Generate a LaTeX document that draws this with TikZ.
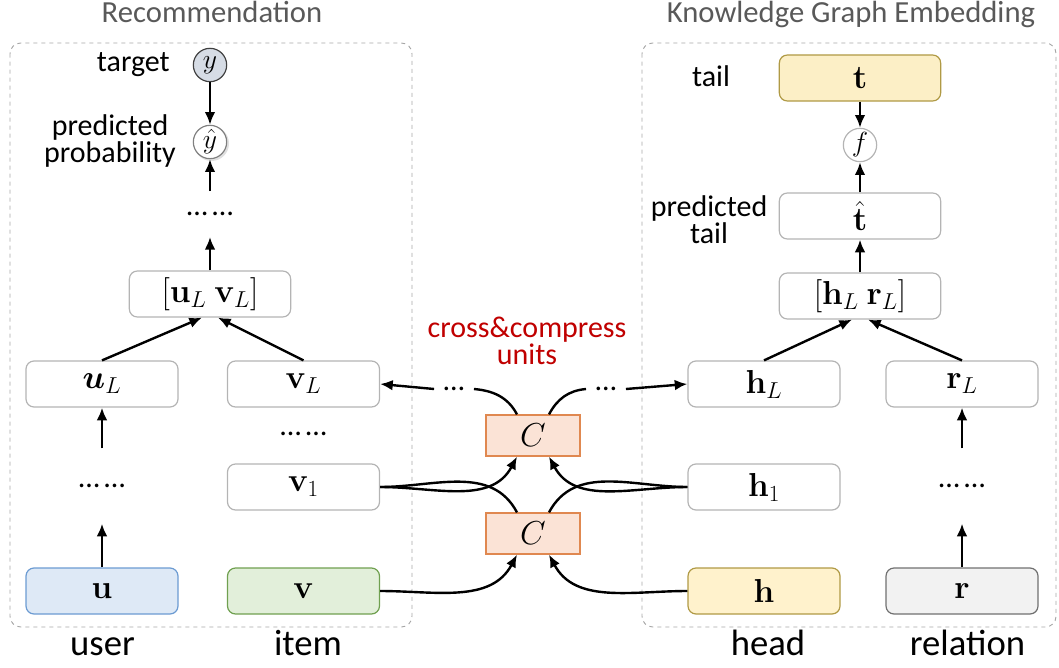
\documentclass[tikz,border=0pt]{standalone}
\usepackage[no-math]{fontspec}
\usepackage{bm}
\setmainfont{Carlito}
\usetikzlibrary{arrows.meta,calc}

\definecolor{boxline}{HTML}{B4B4B4}
\definecolor{frameline}{HTML}{A6A6A6}
\definecolor{titlegrey}{HTML}{595959}
\definecolor{unitred}{HTML}{C00000}
\definecolor{ufill}{HTML}{DEE9F6}
\definecolor{uline}{HTML}{6C9BD2}
\definecolor{vfill}{HTML}{E2EFDA}
\definecolor{vline}{HTML}{70A050}
\definecolor{hfill}{HTML}{FFF2CC}
\definecolor{hline}{HTML}{B09A45}
\definecolor{tfill}{HTML}{FCEFC6}
\definecolor{rfill}{HTML}{F2F2F2}
\definecolor{rline}{HTML}{707070}
\definecolor{cfill}{HTML}{FBE3D6}
\definecolor{cline}{HTML}{E08850}
\definecolor{yfill}{HTML}{D6DCE5}

\newcommand{\mathsz}{\fontsize{26}{28}\selectfont}
\newcommand{\lblsz}{\fontsize{22.5}{20}\selectfont}
\newcommand{\botsz}{\fontsize{27.5}{30}\selectfont}
\newcommand{\ttlsz}{\fontsize{23}{27}\selectfont}
\newcommand{\twodots}{\ldots\,\ldots}

\tikzset{
  lay/.style={draw=boxline, line width=0.9pt, rounded corners=6pt,
    minimum width=114pt, minimum height=34.5pt, inner sep=0pt, font=\mathsz},
  catbox/.style={lay, minimum width=121pt},
  unit/.style={draw=cline, fill=cfill, line width=0.9pt,
    minimum width=70.5pt, minimum height=30.75pt, inner sep=0pt, font=\mathsz},
  ball/.style={circle, draw=boxline, line width=0.9pt, fill=white,
    minimum size=25pt, inner sep=0pt, font=\fontsize{20}{22}\selectfont},
  frame/.style={draw=frameline, dashed, line width=0.7pt, rounded corners=8pt},
  lbl/.style={font=\lblsz, align=center, inner sep=0pt},
  botlbl/.style={font=\botsz, inner sep=0pt, anchor=base},
  ttl/.style={font=\ttlsz, text=titlegrey, inner sep=0pt, anchor=base},
  gap/.style={font=\lblsz, inner sep=0pt},
  arr/.style={-{Latex[length=9.5pt,width=8pt]}, line width=1.8pt},
  link/.style={line width=1.8pt},
}

\begin{document}
\begin{tikzpicture}[x=0.75pt, y=-0.75pt]
\useasboundingbox (0,0) rectangle (1059,667);

% panel frames and titles
\draw[frame] (10,43) rectangle (412,627);
\draw[frame] (642,43) rectangle (1056,627);
\node[ttl] (rectitle) at (212,23) {Recommendation};
\node[ttl] (kgetitle) at (851,23) {Knowledge Graph Embedding};

% recommendation side
\node[lay, fill=ufill, draw=uline] (u) at (102,591) {$\mathbf{u}$};
\node[lay, fill=vfill, draw=vline] (v) at (303.5,591) {$\mathbf{v}$};
\node[lay] (v1) at (303.5,487) {$\mathbf{v}_1$};
\node[lay] (vL) at (303.5,384) {$\mathbf{v}_L$};
\node[lay] (uL) at (102,384) {$\bm{u}_L$};
\node[gap, minimum height=56pt] (udots) at (102,486) {\twodots};
\node[gap] (vdots) at (303.5,434) {\twodots};
\node[catbox] (uv) at (210,294) {$[\mathbf{u}_L\ \mathbf{v}_L]$};
\node[gap, minimum height=34pt] (topdots) at (210,214) {\twodots};
\fill[black!12] (211.5,143.5) circle[radius=17.5];
\node[ball, draw=gray] (yhat) at (210,142) {$\hat{y}$};
\node[ball, fill=yfill, draw=black!75] (y) at (210,65) {$y$};
\node[lbl, anchor=base east] (targetlbl) at (170,72) {target};
\node[lbl] (predlbl) at (110,141) {predicted\\probability};

% knowledge graph side
\node[lay, fill=hfill, draw=hline] (h) at (764,591) {$\mathbf{h}$};
\node[lay, fill=rfill, draw=rline] (r) at (962,591) {$\mathbf{r}$};
\node[lay] (h1) at (764,487) {$\mathbf{h}_1$};
\node[lay] (hL) at (764,384) {$\mathbf{h}_L$};
\node[lay] (rL) at (962,384) {$\mathbf{r}_L$};
\node[gap, minimum height=56pt] (rdots) at (962,486) {\twodots};
\node[catbox] (hr) at (860,296) {$[\mathbf{h}_L\ \mathbf{r}_L]$};
\node[catbox] (that) at (860,216) {$\hat{\mathbf{t}}$};
\node[ball] (f) at (860,145) {$f$};
\node[catbox, fill=tfill, draw=hline] (t) at (860,78) {$\mathbf{t}$};
\node[lbl, anchor=base] (taillbl) at (711,87) {tail};
\node[lbl] (ptaillbl) at (709,220) {predicted\\tail};

% cross&compress units
\node[unit] (ctop) at (533,435.5) {$C$};
\node[unit] (cbot) at (533,533.5) {$C$};
\node[lbl, text=unitred] (unitlbl) at (527,341) {cross\&compress\\units};
\node[gap, inner xsep=7pt] (ldots) at (454,389) {\ldots};
\node[gap, inner xsep=7pt] (rdotsc) at (606,389) {\ldots};

% bottom labels
\node[botlbl] (userlbl) at (102.5,655) {user};
\node[botlbl] (itemlbl) at (308,655) {item};
\node[botlbl] (headlbl) at (768,655) {head};
\node[botlbl] (rellbl) at (967.5,655) {relation};

% vertical flows
\draw[arr] (u.north) -- (udots.south);
\draw[arr] (udots.north) -- (uL.south);
\draw[arr] (uL.north) -- ($(uv.south)+(-8,0)$);
\draw[arr] (vL.north) -- ($(uv.south)+(8,0)$);
\draw[arr] (uv.north) -- (topdots.south);
\draw[arr] (topdots.north) -- (yhat.south);
\draw[arr] (y.south) -- (yhat.north);

\draw[arr] (r.north) -- (rdots.south);
\draw[arr] (rdots.north) -- (rL.south);
\draw[arr] (hL.north) -- ($(hr.south)+(-8,0)$);
\draw[arr] (rL.north) -- ($(hr.south)+(8,0)$);
\draw[arr] (hr.north) -- (that.south);
\draw[arr] (that.north) -- (f.south);
\draw[arr] (t.south) -- (f.north);

% links into and out of the units
\draw[arr] (v.east) to[out=0, in=-118] ($(cbot.south)+(-16,0)$);
\draw[arr] (h.west) to[out=180, in=-62] ($(cbot.south)+(16,0)$);
\draw[link] (v1.east) to[out=0, in=118] ($(cbot.north)+(-16,0)$);
\draw[link] (h1.west) to[out=180, in=62] ($(cbot.north)+(16,0)$);
\draw[arr] (v1.east) to[out=0, in=-118] ($(ctop.south)+(-16,0)$);
\draw[arr] (h1.west) to[out=180, in=-62] ($(ctop.south)+(16,0)$);
\draw[link] ($(ctop.north)+(-16,0)$) to[out=118, in=-5] (ldots.east);
\draw[arr] (ldots.west) -- (vL.east);
\draw[link] ($(ctop.north)+(16,0)$) to[out=62, in=185] (rdotsc.west);
\draw[arr] (rdotsc.east) -- (hL.west);
\end{tikzpicture}
\end{document}
